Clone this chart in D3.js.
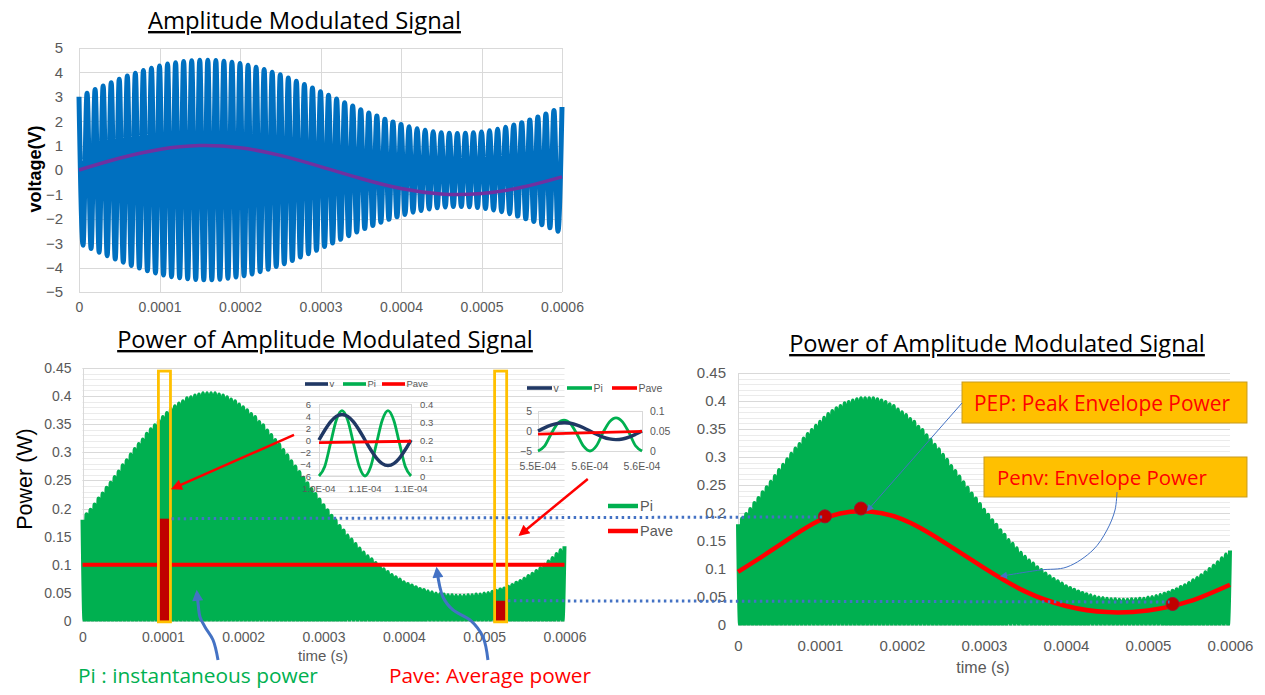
<!DOCTYPE html>
<html>
<head>
<meta charset="utf-8">
<script src="https://cdnjs.cloudflare.com/ajax/libs/d3/7.8.5/d3.min.js"></script>
<style>
  body { margin: 0; background: #fff; }
  svg { display: block; }
  .title { font-family: "Open Sans", Lato, sans-serif; text-decoration: underline; }
  .callout { font-family: "Open Sans", Lato, sans-serif; }
</style>
</head>
<body>
<div id="wrapper"></div>
<script>
//1) Data (read off the picture)

// carrier is 100 kHz, so an extreme every 5 us
const halfPeriod = 5e-6

// voltage extremes of the AM signal, one per carrier half cycle (V)
const vExtremes = [
   3.00,-3.08, 3.15,-3.22, 3.30,-3.37, 3.44,-3.51, 3.58,-3.65,
   3.72,-3.78, 3.85,-3.91, 3.97,-4.02, 4.08,-4.13, 4.17,-4.22,
   4.26,-4.30, 4.34,-4.37, 4.40,-4.42, 4.45,-4.46, 4.48,-4.49,
   4.50,-4.50, 4.50,-4.50, 4.49,-4.48, 4.46,-4.44, 4.42,-4.39,
   4.36,-4.33, 4.29,-4.26, 4.21,-4.17, 4.12,-4.07, 4.01,-3.96,
   3.90,-3.84, 3.77,-3.71, 3.64,-3.57, 3.50,-3.43, 3.36,-3.29,
   3.21,-3.14, 3.06,-2.99, 2.91,-2.84, 2.76,-2.69, 2.62,-2.54,
   2.47,-2.40, 2.34,-2.27, 2.21,-2.14, 2.08,-2.02, 1.97,-1.92,
   1.86,-1.82, 1.77,-1.73, 1.69,-1.66, 1.63,-1.60, 1.57,-1.55,
   1.53,-1.52, 1.51,-1.50, 1.50,-1.50, 1.51,-1.51, 1.53,-1.54,
   1.56,-1.58, 1.61,-1.64, 1.67,-1.71, 1.75,-1.79, 1.84,-1.89,
   1.94,-2.00, 2.05,-2.11, 2.17,-2.24, 2.30,-2.37, 2.44,-2.51,
   2.58
]

// instantaneous power peaks, one per carrier half cycle (W)
const piPeaks = [
  0.180,0.190,0.198,0.207,0.218,0.227,0.237,0.246,0.256,0.266,
  0.277,0.286,0.296,0.306,0.315,0.323,0.333,0.341,0.348,0.356,
  0.363,0.370,0.377,0.382,0.387,0.391,0.396,0.398,0.401,0.403,
  0.405,0.405,0.405,0.405,0.403,0.401,0.398,0.394,0.391,0.385,
  0.380,0.375,0.368,0.363,0.354,0.348,0.339,0.331,0.322,0.314,
  0.304,0.295,0.284,0.275,0.265,0.255,0.245,0.235,0.226,0.216,
  0.206,0.197,0.187,0.179,0.169,0.161,0.152,0.145,0.137,0.129,
  0.122,0.115,0.110,0.103,0.098,0.092,0.087,0.082,0.078,0.074,
  0.069,0.066,0.063,0.060,0.057,0.055,0.053,0.051,0.049,0.048,
  0.047,0.046,0.046,0.045,0.045,0.045,0.046,0.046,0.047,0.047,
  0.049,0.050,0.052,0.054,0.056,0.058,0.061,0.064,0.068,0.071,
  0.075,0.080,0.084,0.089,0.094,0.100,0.106,0.112,0.119,0.126,
  0.133
]

// modulating signal (purple) and envelope power (red), every 50 us
const coarseTimes = [0,0.00005,0.0001,0.00015,0.0002,0.00025,0.0003,0.00035,0.0004,0.00045,0.0005,0.00055,0.0006]
const modValues   = [0,0.48,0.84,1.00,0.91,0.60,0.14,-0.35,-0.76,-0.98,-0.96,-0.71,-0.28]
const penvValues  = [0.095,0.142,0.187,0.203,0.189,0.149,0.102,0.060,0.034,0.023,0.026,0.042,0.072]

const paveTimes  = [0, 0.0006]
const paveValues = [0.1, 0.1]

// highlighted windows and the power bars inside them
const windowStart = [0.0000945, 0.000513]
const windowEnd   = [0.0001095, 0.000528]
const barStart    = [0.000096, 0.0005145]
const barEnd      = [0.000108, 0.0005265]
const barValues   = [0.182, 0.036]

// marked points on the envelope power
const dotTimes  = [0.000106, 0.00015, 0.00053]
const dotValues = [0.194, 0.208, 0.0375]

// zoomed insets (17 samples over one carrier cycle)
const insetStep = 6.25e-7
const inset1V    = [0,1.63,3.01,3.94,4.26,3.94,3.01,1.63,0,-1.63,-3.01,-3.94,-4.26,-3.94,-3.01,-1.63,0]
const inset1Pi   = [0,0.053,0.181,0.310,0.363,0.310,0.181,0.053,0,0.053,0.181,0.310,0.363,0.310,0.181,0.053,0]
const inset1Pave = [0.185, 0.193]
const inset2V    = [0,0.79,1.46,1.91,2.07,1.93,1.49,0.81,0,-0.82,-1.52,-1.98,-2.15,-2.00,-1.54,-0.83,0]
const inset2Pi   = [0,0.012,0.042,0.068,0.077,0.068,0.042,0.012,0,0.013,0.046,0.073,0.083,0.073,0.046,0.013,0]
const inset2Pave = [0.042, 0.049]

// tick values and labels
const timeTicks  = [0,0.0001,0.0002,0.0003,0.0004,0.0005,0.0006]
const voltTicks  = [-5,-4,-3,-2,-1,0,1,2,3,4,5]
const powerTicks = [0,0.05,0.1,0.15,0.2,0.25,0.3,0.35,0.4,0.45]
const inset1Left  = [-6,-4,-2,0,2,4,6]
const inset1Right = [0,0.1,0.2,0.3,0.4]
const inset1X     = ["1.0E-04","1.1E-04","1.1E-04"]
const inset2Left  = [-5,0,5]
const inset2Right = [0,0.05,0.1]
const inset2X     = ["5.5E-04","5.6E-04","5.6E-04"]

//2) Canvas

const svg = d3.select("#wrapper").append("svg")
    .attr("width", 1265)
    .attr("height", 695)
    .style("font-family", "'Liberation Sans', Arial, sans-serif")

const defs = svg.append("defs")

function addArrowHead(id, color, w, h){
    defs.append("marker")
        .attr("id", id)
        .attr("viewBox", "0 0 10 10")
        .attr("refX", 7).attr("refY", 5)
        .attr("markerUnits", "userSpaceOnUse")
        .attr("markerWidth", w).attr("markerHeight", h)
        .attr("orient", "auto")
      .append("path")
        .attr("d", "M0,0 L10,5 L0,10 z")
        .attr("fill", color)
}
addArrowHead("arrowRed", "#ff0000", 13, 11)
addArrowHead("arrowBlue", "#4472c4", 13, 11)
addArrowHead("arrowThin", "#4472c4", 8, 7)

const GRID = "#d9d9d9"
const MINOR = "#ebebeb"
const LABEL = "#595959"

const carrierTimes = vExtremes.map((d, i) => i * halfPeriod)

// helpers
function hLines(g, scale, values, x0, x1, color){
    g.append("g").selectAll("line").data(values).join("line")
        .attr("x1", x0).attr("x2", x1)
        .attr("y1", d => Math.round(scale(d)) + 0.5)
        .attr("y2", d => Math.round(scale(d)) + 0.5)
        .attr("stroke", color).attr("stroke-width", 1)
}
function vLines(g, scale, values, y0, y1, color){
    g.append("g").selectAll("line").data(values).join("line")
        .attr("y1", y0).attr("y2", y1)
        .attr("x1", d => Math.round(scale(d)) + 0.5)
        .attr("x2", d => Math.round(scale(d)) + 0.5)
        .attr("stroke", color).attr("stroke-width", 1)
}
function styleAxis(g, size){
    g.attr("font-family", "'Liberation Sans', Arial, sans-serif")
     .attr("font-size", size)
     .attr("color", LABEL)
    g.select(".domain").remove()
}
// scale a text's font so it spans the width seen in the picture
function fitWidth(sel, width){
    sel.each(function(){
        const size = parseFloat(this.getAttribute("font-size"))
        const len = this.getComputedTextLength()
        if (len > 0) this.setAttribute("font-size", (size * width / len).toFixed(2))
    })
}
const timeFormat = d => d === 0 ? "0" : d.toFixed(4)

// instantaneous power as a thick line dropping to zero between peaks
function piPoints(){
    const pts = []
    piPeaks.forEach((p, i) => {
        pts.push([carrierTimes[i], p])
        if (i < piPeaks.length - 1) pts.push([carrierTimes[i] + halfPeriod / 2, 0])
    })
    return pts
}

//3) Top chart : Amplitude Modulated Signal

const xTop = d3.scaleLinear().domain([0, 0.0006]).range([79, 562])
const yTop = d3.scaleLinear().domain([-5, 5]).range([292, 48])
const topChart = svg.append("g")

hLines(topChart, yTop, voltTicks, 79, 562, GRID)
vLines(topChart, xTop, timeTicks, 48, 292, GRID)

topChart.append("path")
    .datum(vExtremes)
    .attr("fill", "none")
    .attr("stroke", "#0070c0")
    .attr("stroke-width", 5)
    .attr("stroke-linejoin", "round")
    .attr("d", d3.line()
        .x((d, i) => xTop(carrierTimes[i]))
        .y(d => yTop(d))
        .curve(d3.curveMonotoneX))

topChart.append("path")
    .datum(modValues)
    .attr("fill", "none")
    .attr("stroke", "#7030a0")
    .attr("stroke-width", 3.5)
    .attr("d", d3.line()
        .x((d, i) => xTop(coarseTimes[i]))
        .y(d => yTop(d))
        .curve(d3.curveNatural))

topChart.append("g")
    .attr("transform", "translate(0,292)")
    .call(d3.axisBottom(xTop).tickValues(timeTicks).tickFormat(timeFormat).tickSize(0).tickPadding(10))
    .call(g => styleAxis(g, 14))

topChart.append("g")
    .attr("transform", "translate(79,0)")
    .call(d3.axisLeft(yTop).tickValues(voltTicks).tickSize(0).tickPadding(16))
    .call(g => styleAxis(g, 15))

topChart.append("text")
    .attr("transform", "translate(41,169) rotate(-90)")
    .attr("text-anchor", "middle")
    .attr("font-weight", "bold")
    .attr("font-size", 18)
    .attr("fill", "#000")
    .text("voltage(V)")

topChart.append("text")
    .attr("class", "title")
    .attr("x", 304.5).attr("y", 29)
    .attr("text-anchor", "middle")
    .attr("font-size", 22)
    .text("Amplitude Modulated Signal")
    .call(fitWidth, 313)

//4) Bottom left chart : Power with average power

const xPow = d3.scaleLinear().domain([0, 0.0006]).range([82.5, 564.5])
const yPow = d3.scaleLinear().domain([0, 0.45]).range([621, 368])
const leftChart = svg.append("g")

hLines(leftChart, yPow, yPow.ticks(45), 82.5, 564.5, MINOR)
hLines(leftChart, yPow, powerTicks, 82.5, 564.5, GRID)
vLines(leftChart, xPow, [0], 368, 621, GRID)

defs.append("clipPath").attr("id", "clipLeft")
    .append("rect").attr("x", 80).attr("y", 340).attr("width", 487).attr("height", 621.5 - 340)
defs.append("clipPath").attr("id", "clipRight")
    .append("rect").attr("x", 736).attr("y", 340).attr("width", 497).attr("height", 625.5 - 340)

leftChart.append("path")
    .datum(piPoints())
    .attr("clip-path", "url(#clipLeft)")
    .attr("fill", "none")
    .attr("stroke", "#00b050")
    .attr("stroke-width", 4)
    .attr("stroke-linejoin", "round")
    .attr("d", d3.line().x(d => xPow(d[0])).y(d => yPow(d[1])).curve(d3.curveMonotoneX))

leftChart.append("path")
    .datum(paveValues)
    .attr("fill", "none")
    .attr("stroke", "#ff0000")
    .attr("stroke-width", 4)
    .attr("d", d3.line().x((d, i) => xPow(paveTimes[i])).y(d => yPow(d)))

leftChart.append("g").selectAll("rect").data(barValues).join("rect")
    .attr("x", (d, i) => xPow(barStart[i]))
    .attr("width", (d, i) => xPow(barEnd[i]) - xPow(barStart[i]))
    .attr("y", d => yPow(d))
    .attr("height", d => yPow(0) - yPow(d))
    .attr("fill", "#c00000")

leftChart.append("g").selectAll("rect").data(windowStart).join("rect")
    .attr("x", d => xPow(d))
    .attr("width", (d, i) => xPow(windowEnd[i]) - xPow(d))
    .attr("y", yPow(0.4445))
    .attr("height", yPow(-0.0015) - yPow(0.4445))
    .attr("fill", "none")
    .attr("stroke", "#ffc000")
    .attr("stroke-width", 2.8)

leftChart.append("g")
    .attr("transform", "translate(0,621)")
    .call(d3.axisBottom(xPow).tickValues(timeTicks).tickFormat(timeFormat).tickSize(0).tickPadding(11))
    .call(g => styleAxis(g, 14))

leftChart.append("g")
    .attr("transform", "translate(82.5,0)")
    .call(d3.axisLeft(yPow).tickValues(powerTicks).tickFormat(d => String(d)).tickSize(0).tickPadding(11))
    .call(g => styleAxis(g, 14))

leftChart.append("text")
    .attr("transform", "translate(32,479) rotate(-90)")
    .attr("text-anchor", "middle")
    .attr("font-size", 21.5)
    .attr("fill", "#000")
    .text("Power (W)")

leftChart.append("text")
    .attr("x", 323).attr("y", 661)
    .attr("text-anchor", "middle")
    .attr("font-size", 15)
    .attr("fill", LABEL)
    .text("time (s)")

leftChart.append("text")
    .attr("class", "title")
    .attr("x", 325).attr("y", 348)
    .attr("text-anchor", "middle")
    .attr("font-size", 22)
    .text("Power of Amplitude Modulated Signal")
    .call(fitWidth, 416)

// legend Pi / Pave
const legendItems = [["Pi", "#00b050", 506], ["Pave", "#ff0000", 531]]
const legend = leftChart.append("g")
legend.selectAll("line").data(legendItems).join("line")
    .attr("x1", 608).attr("x2", 638)
    .attr("y1", d => d[2]).attr("y2", d => d[2])
    .attr("stroke", d => d[1]).attr("stroke-width", 4.5)
legend.selectAll("text").data(legendItems).join("text")
    .attr("x", 640).attr("y", d => d[2]).attr("dy", "0.36em")
    .attr("font-size", 14.5).attr("fill", LABEL)
    .text(d => d[0])

//5) Insets

function drawInset(o){
    const g = svg.append("g")
    const n = o.v.length
    const x = d3.scaleLinear().domain([0, (n - 1) * insetStep]).range([o.x0, o.x1])
    const yL = d3.scaleLinear().domain(o.leftDomain).range([o.y1, o.y0])
    const yR = d3.scaleLinear().domain(o.rightDomain).range([o.y1, o.y0])

    hLines(g, yL, o.leftTicks, o.x0, o.x1, GRID)
    vLines(g, x, [0, (n - 1) * insetStep], o.y0, o.y1, GRID)

    const t = (d, i) => x(i * insetStep)
    g.append("path").datum(o.pi)
        .attr("fill", "none").attr("stroke", "#00b050").attr("stroke-width", o.sw)
        .attr("d", d3.line().x(t).y(d => yR(d)).curve(d3.curveMonotoneX))
    g.append("path").datum(o.v)
        .attr("fill", "none").attr("stroke", "#203864").attr("stroke-width", o.sw + 0.6)
        .attr("d", d3.line().x(t).y(d => yL(d)).curve(d3.curveMonotoneX))
    g.append("path").datum(o.pave)
        .attr("fill", "none").attr("stroke", "#ff0000").attr("stroke-width", o.sw)
        .attr("d", d3.line().x((d, i) => x(i * (n - 1) * insetStep)).y(d => yR(d)))

    g.append("g")
        .attr("transform", `translate(${o.x0},0)`)
        .call(d3.axisLeft(yL).tickValues(o.leftTicks).tickSize(0).tickPadding(o.padL))
        .call(a => styleAxis(a, o.fs))
    g.append("g")
        .attr("transform", `translate(${o.x1},0)`)
        .call(d3.axisRight(yR).tickValues(o.rightTicks).tickFormat(d => String(d)).tickSize(0).tickPadding(o.padR))
        .call(a => styleAxis(a, o.fs))

    g.append("g").selectAll("text").data(o.xLabels).join("text")
        .attr("x", (d, i) => x(i * (n - 1) / 2 * insetStep))
        .attr("y", o.y1 + o.padX)
        .attr("text-anchor", "middle")
        .attr("font-size", o.fs).attr("fill", LABEL)
        .text(d => d)

    const items = [["v", "#203864"], ["Pi", "#00b050"], ["Pave", "#ff0000"]]
    const lg = g.append("g").attr("transform", `translate(${o.legendX},${o.legendY})`)
    lg.selectAll("line").data(items).join("line")
        .attr("x1", (d, i) => o.legendGap[i]).attr("x2", (d, i) => o.legendGap[i] + o.legendLen)
        .attr("y1", 0).attr("y2", 0)
        .attr("stroke", d => d[1]).attr("stroke-width", o.sw + 0.8)
    lg.selectAll("text").data(items).join("text")
        .attr("x", (d, i) => o.legendGap[i] + o.legendLen + 1.5)
        .attr("dy", "0.35em")
        .attr("font-size", o.fs).attr("fill", LABEL)
        .text(d => d[0])
}

drawInset({
    v: inset1V, pi: inset1Pi, pave: inset1Pave,
    x0: 319, x1: 411, y0: 404, y1: 476,
    leftDomain: [-6, 6], rightDomain: [0, 0.4],
    leftTicks: inset1Left, rightTicks: inset1Right, xLabels: inset1X,
    fs: 9.5, padL: 8, padR: 9, padX: 16, sw: 2.8,
    legendX: 305, legendY: 384, legendLen: 23, legendGap: [0, 38, 77]
})

drawInset({
    v: inset2V, pi: inset2Pi, pave: inset2Pave,
    x0: 538, x1: 642, y0: 411, y1: 451,
    leftDomain: [-5, 5], rightDomain: [0, 0.1],
    leftTicks: inset2Left, rightTicks: inset2Right, xLabels: inset2X,
    fs: 10.5, padL: 6, padR: 8, padX: 19, sw: 2.8,
    legendX: 527, legendY: 388, legendLen: 25, legendGap: [0, 40, 85]
})

//6) Bottom right chart : Power with envelope power

const xR = d3.scaleLinear().domain([0, 0.0006]).range([738, 1230])
const yR = d3.scaleLinear().domain([0, 0.45]).range([625, 373])
const rightChart = svg.append("g")

hLines(rightChart, yR, yR.ticks(45), 738, 1230, MINOR)
hLines(rightChart, yR, powerTicks, 738, 1230, GRID)
vLines(rightChart, xR, [0], 373, 625, GRID)

rightChart.append("path")
    .datum(piPoints())
    .attr("clip-path", "url(#clipRight)")
    .attr("fill", "none")
    .attr("stroke", "#00b050")
    .attr("stroke-width", 4)
    .attr("stroke-linejoin", "round")
    .attr("d", d3.line().x(d => xR(d[0])).y(d => yR(d[1])).curve(d3.curveMonotoneX))

rightChart.append("path")
    .datum(penvValues)
    .attr("fill", "none")
    .attr("stroke", "#ff0000")
    .attr("stroke-width", 4.5)
    .attr("d", d3.line().x((d, i) => xR(coarseTimes[i])).y(d => yR(d)).curve(d3.curveNatural))

rightChart.append("g")
    .attr("transform", "translate(0,625)")
    .call(d3.axisBottom(xR).tickValues(timeTicks).tickFormat(timeFormat).tickSize(0).tickPadding(15))
    .call(g => styleAxis(g, 15))

rightChart.append("g")
    .attr("transform", "translate(738,0)")
    .call(d3.axisLeft(yR).tickValues(powerTicks).tickFormat(d => String(d)).tickSize(0).tickPadding(12))
    .call(g => styleAxis(g, 15))

rightChart.append("text")
    .attr("x", 983).attr("y", 673)
    .attr("text-anchor", "middle")
    .attr("font-size", 16)
    .attr("fill", LABEL)
    .text("time (s)")

rightChart.append("text")
    .attr("class", "title")
    .attr("x", 997).attr("y", 352)
    .attr("text-anchor", "middle")
    .attr("font-size", 22)
    .text("Power of Amplitude Modulated Signal")
    .call(fitWidth, 416)

//7) Annotations (positions given in each chart's data units)

const linkDots = svg.append("g")
    .attr("stroke", "#4472c4").attr("stroke-width", 3)
    .attr("stroke-dasharray", "2.5,3.5")
linkDots.append("line")
    .attr("x1", xPow(0.000111)).attr("y1", yPow(barValues[0]))
    .attr("x2", xR(dotTimes[0]) - 2).attr("y2", yR(0.193))
linkDots.append("line")
    .attr("x1", xPow(0.0005295)).attr("y1", yPow(0.036))
    .attr("x2", xR(dotTimes[2]) - 3).attr("y2", yR(0.041))

rightChart.append("g").selectAll("circle").data(dotValues).join("circle")
    .attr("cx", (d, i) => xR(dotTimes[i]))
    .attr("cy", d => yR(d))
    .attr("r", 6.5)
    .attr("fill", "#c00000")
    .attr("stroke", "#a01030")
    .attr("stroke-width", 1)

// red straight arrows on the left chart
const redArrows = [
    [[0.0002633, 0.331], [0.0001139, 0.2367]],
    [[0.000629, 0.2527], [0.0005458, 0.1548]]
]
svg.append("g").selectAll("line").data(redArrows).join("line")
    .attr("x1", d => xPow(d[0][0])).attr("y1", d => yPow(d[0][1]))
    .attr("x2", d => xPow(d[1][0])).attr("y2", d => yPow(d[1][1]))
    .attr("stroke", "#ff0000").attr("stroke-width", 2.5)
    .attr("marker-end", "url(#arrowRed)")

// blue curved arrows from the captions
const blueArrows = [
    [[0.0001687,-0.0694],[0.0001625,-0.0338],[0.0001525,-0.0107],[0.0001463,0.0071],[0.0001438,0.032],[0.0001425,0.0498]],
    [[0.0005047,-0.0694],[0.0004985,-0.0285],[0.0004824,0.0018],[0.0004612,0.0196],[0.0004487,0.0427],[0.0004412,0.0907]]
]
svg.append("g").selectAll("path").data(blueArrows).join("path")
    .attr("fill", "none")
    .attr("stroke", "#4472c4").attr("stroke-width", 3)
    .attr("marker-end", "url(#arrowBlue)")
    .attr("d", d3.line().x(d => xPow(d[0])).y(d => yPow(d[1])).curve(d3.curveCatmullRom))

// callout boxes on the right chart
const callouts = [
    {text: "PEP: Peak Envelope Power", t0: 0.0002732, t1: 0.0006207, p0: 0.3607, p1: 0.4339, pad: 12, base: 0.3821, w: 256},
    {text: "Penv: Envelope Power",     t0: 0.0003,    t1: 0.0006207, p0: 0.2286, p1: 0.3,    pad: 13, base: 0.2500, w: 210}
]
const boxes = svg.append("g")
boxes.selectAll("rect").data(callouts).join("rect")
    .attr("x", d => xR(d.t0)).attr("y", d => yR(d.p1))
    .attr("width", d => xR(d.t1) - xR(d.t0))
    .attr("height", d => yR(d.p0) - yR(d.p1))
    .attr("fill", "#ffc000").attr("stroke", "#c79a1e").attr("stroke-width", 1)
boxes.selectAll("text").data(callouts).join("text")
    .attr("class", "callout")
    .attr("x", d => xR(d.t0) + d.pad).attr("y", d => yR(d.base))
    .attr("font-size", 22).attr("fill", "#ff0000")
    .text(d => d.text)
    .each(function(d){ fitWidth(d3.select(this), d.w) })

// thin leader lines
const leaders = [
    [[0.0002732, 0.3964], [0.0001585, 0.2054]],
    [[0.0004622,0.2375],[0.0004598,0.2054],[0.00045,0.1696],[0.0004329,0.1339],[0.0004012,0.1036],[0.0003683,0.0982],[0.000322,0.0875]]
]
svg.append("g").selectAll("path").data(leaders).join("path")
    .attr("fill", "none")
    .attr("stroke", "#4472c4").attr("stroke-width", 1)
    .attr("marker-end", "url(#arrowThin)")
    .attr("d", d3.line().x(d => xR(d[0])).y(d => yR(d[1])).curve(d3.curveCatmullRom))

// captions
svg.append("text").attr("class", "callout")
    .attr("x", 78).attr("y", 683)
    .attr("font-size", 22).attr("fill", "#00b050")
    .text("Pi : instantaneous power")
    .call(fitWidth, 240)
svg.append("text").attr("class", "callout")
    .attr("x", 389).attr("y", 683)
    .attr("font-size", 22).attr("fill", "#ff0000")
    .text("Pave: Average power")
    .call(fitWidth, 202)
</script>
</body>
</html>
